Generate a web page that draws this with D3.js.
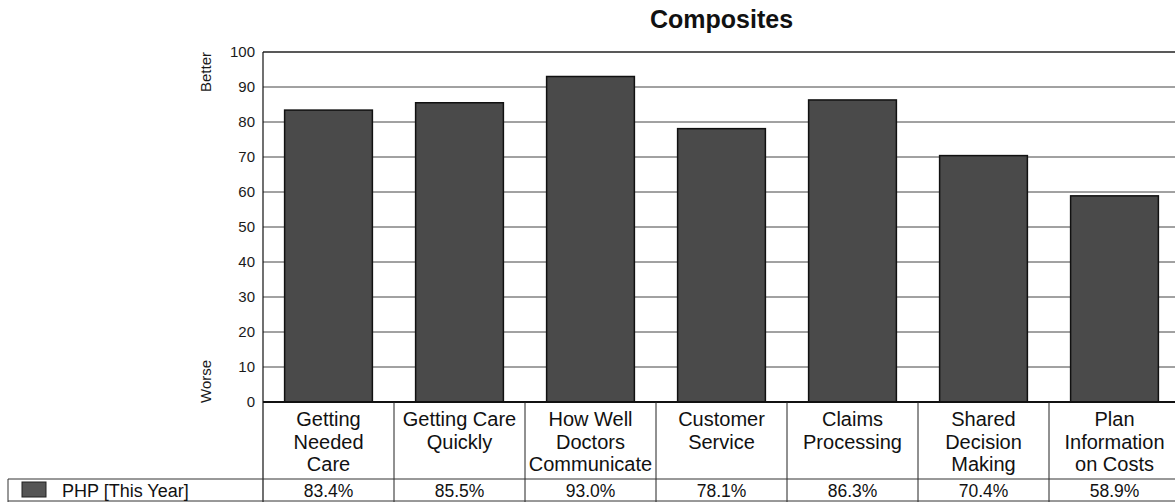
<!DOCTYPE html>
<html>
<head>
<meta charset="utf-8">
<script src="https://cdn.jsdelivr.net/npm/d3@7"></script>
<style>
  html, body { margin: 0; padding: 0; background: #fff; }
  svg { display: block; font-family: "Liberation Sans", Arial, Helvetica, sans-serif; }
</style>
</head>
<body>
<svg id="chart" width="1175" height="502"></svg>
<script>
// Composite scores, one bar per composite
const categories = [
  "Getting\nNeeded\nCare",
  "Getting Care\nQuickly",
  "How Well\nDoctors\nCommunicate",
  "Customer\nService",
  "Claims\nProcessing",
  "Shared\nDecision\nMaking",
  "Plan\nInformation\non Costs"
];
const values = [83.4, 85.5, 93.0, 78.1, 86.3, 70.4, 58.9];
const seriesName = "PHP [This Year]";
const yTicks = [0, 10, 20, 30, 40, 50, 60, 70, 80, 90, 100];
const chartTitle = "Composites";
const topLabel = "Better";
const bottomLabel = "Worse";

const svg = d3.select("#chart");

// plot frame
const plotLeft = 263, plotTop = 52, plotW = 917, plotH = 350;
const plotBottom = plotTop + plotH;
const headerBottom = 479, tableBottom = 501;

const x = d3.scaleBand()
  .domain(categories)
  .range([plotLeft, plotLeft + plotW])
  .paddingInner(0.33)
  .paddingOuter(0.165);

const y = d3.scaleLinear().domain([0, 100]).range([plotBottom, plotTop]);

// title
svg.append("text")
  .attr("x", plotLeft + plotW / 2)
  .attr("y", 28)
  .attr("text-anchor", "middle")
  .attr("font-size", 25)
  .attr("font-weight", "bold")
  .attr("fill", "#111")
  .text(chartTitle);

// horizontal gridlines
svg.append("g")
  .selectAll("line")
  .data(yTicks.filter(d => d > 0 && d < 100))
  .join("line")
  .attr("x1", plotLeft).attr("x2", plotLeft + plotW)
  .attr("y1", d => y(d)).attr("y2", d => y(d))
  .attr("stroke", "#444")
  .attr("stroke-width", 1);

// top border
svg.append("line")
  .attr("x1", plotLeft).attr("x2", plotLeft + plotW)
  .attr("y1", y(100)).attr("y2", y(100))
  .attr("stroke", "#222").attr("stroke-width", 1.6);

// y axis with labels only
const yAxis = d3.axisLeft(y).tickValues(yTicks).tickSize(0).tickPadding(8);
const gy = svg.append("g").attr("transform", `translate(${plotLeft},0)`).call(yAxis);
gy.select(".domain").remove();
gy.selectAll("text")
  .attr("font-size", 15)
  .attr("font-family", "\"Liberation Sans\", Arial, sans-serif")
  .attr("fill", "#1a1a1a");

// Better / Worse
svg.append("text")
  .attr("transform", `translate(211,${plotTop}) rotate(-90)`)
  .attr("text-anchor", "end")
  .attr("font-size", 15)
  .attr("fill", "#1a1a1a")
  .text(topLabel);
svg.append("text")
  .attr("transform", `translate(211,${plotBottom + 1}) rotate(-90)`)
  .attr("text-anchor", "start")
  .attr("font-size", 15)
  .attr("fill", "#1a1a1a")
  .text(bottomLabel);

// bars
svg.append("g")
  .selectAll("rect")
  .data(values)
  .join("rect")
  .attr("x", (d, i) => x(categories[i]))
  .attr("y", d => y(d))
  .attr("width", x.bandwidth())
  .attr("height", d => y(0) - y(d))
  .attr("fill", "#4a4a4a")
  .attr("stroke", "#111")
  .attr("stroke-width", 1.5);

// baseline and left frame
svg.append("line")
  .attr("x1", plotLeft).attr("x2", plotLeft + plotW)
  .attr("y1", plotBottom).attr("y2", plotBottom)
  .attr("stroke", "#111").attr("stroke-width", 2);
svg.append("line")
  .attr("x1", plotLeft).attr("x2", plotLeft)
  .attr("y1", plotTop).attr("y2", tableBottom + 2)
  .attr("stroke", "#111").attr("stroke-width", 1.2);

// data table below the axis
const step = x.step();
const colLeft = i => plotLeft + i * step;
const table = svg.append("g");

table.selectAll("line.col")
  .data(categories.slice(1))
  .join("line")
  .attr("class", "col")
  .attr("x1", (d, i) => colLeft(i + 1)).attr("x2", (d, i) => colLeft(i + 1))
  .attr("y1", plotBottom).attr("y2", tableBottom + 2)
  .attr("stroke", "#222").attr("stroke-width", 1);

table.append("line")
  .attr("x1", 8).attr("x2", plotLeft + plotW)
  .attr("y1", headerBottom).attr("y2", headerBottom)
  .attr("stroke", "#333").attr("stroke-width", 1);
table.append("line")
  .attr("x1", 8).attr("x2", plotLeft + plotW)
  .attr("y1", tableBottom).attr("y2", tableBottom)
  .attr("stroke", "#333").attr("stroke-width", 1);
table.append("line")
  .attr("x1", 8).attr("x2", 8)
  .attr("y1", headerBottom).attr("y2", tableBottom + 2)
  .attr("stroke", "#333").attr("stroke-width", 1);

// category headers
table.selectAll("text.hdr")
  .data(categories)
  .join("text")
  .attr("class", "hdr")
  .attr("text-anchor", "middle")
  .attr("font-size", 20)
  .attr("fill", "#111")
  .each(function (d) {
    const t = d3.select(this);
    d.split("\n").forEach((line, k) => {
      t.append("tspan")
        .attr("x", x(d) + x.bandwidth() / 2)
        .attr("y", 426 + k * 22.5)
        .text(line);
    });
  });

// values row
table.selectAll("text.val")
  .data(values)
  .join("text")
  .attr("class", "val")
  .attr("x", (d, i) => x(categories[i]) + x.bandwidth() / 2)
  .attr("y", 497)
  .attr("text-anchor", "middle")
  .attr("font-size", 17.5)
  .attr("fill", "#111")
  .text(d => d.toFixed(1) + "%");

// legend cell
table.append("rect")
  .attr("x", 22).attr("y", 482)
  .attr("width", 24).attr("height", 15)
  .attr("fill", "#555").attr("stroke", "#222").attr("stroke-width", 1);
table.append("text")
  .attr("x", 62).attr("y", 497)
  .attr("font-size", 18)
  .attr("fill", "#111")
  .text(seriesName);
</script>
</body>
</html>
